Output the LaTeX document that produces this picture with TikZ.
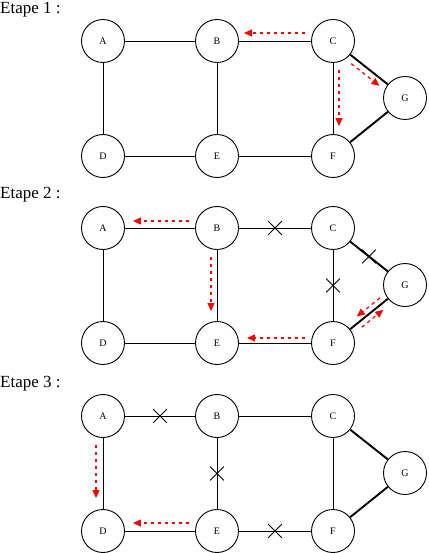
\documentclass[tikz,border=0pt]{standalone}
\usepackage{fontspec}
\setmainfont{Liberation Serif}
\usetikzlibrary{arrows.meta,calc,shapes.misc}
\definecolor{Rouge}{HTML}{FF0000}
\tikzset{
  sommet/.style={
    circle, draw, line width=0.9pt, minimum size=43pt,
    inner sep=0pt, font=\fontsize{10}{12}\selectfont
  },
  arete/.style={line width=0.9pt},
  grosse/.style={line width=1.9pt},
  coupe/.style={cross out, draw, line width=0.8pt, minimum size=13pt, inner sep=0pt},
  fleche/.style={-{Triangle[length=8pt,width=7pt]}, draw=Rouge, line width=1.2pt,
    dash pattern=on 3.5pt off 3.5pt},
  titre/.style={anchor=base west, inner sep=0pt, font=\fontsize{17}{20}\selectfont}
}

\begin{document}
\begin{tikzpicture}[x=1pt,y=-1pt]
    \useasboundingbox (0,0) rectangle (428,553);
    % titres
    \node[titre] (t1) at (0,14) {Etape 1 :};
    \node[titre] (t2) at (0,199) {Etape 2 :};
    \node[titre] (t3) at (0,387) {Etape 3 :};
    % les trois graphes
    \foreach \p/\y in {1/41,2/228,3/416}{
      \node[sommet] (A\p) at (103,\y) {A};
      \node[sommet] (B\p) at (217,\y) {B};
      \node[sommet] (C\p) at (333,\y) {C};
      \node[sommet] (G\p) at (405,\y+57) {G};
      \node[sommet] (D\p) at (103,\y+115) {D};
      \node[sommet] (E\p) at (217,\y+115) {E};
      \node[sommet] (F\p) at (333,\y+115) {F};
      \draw[arete] (A\p)--(B\p);
      \draw[arete] (B\p)--(C\p);
      \draw[arete] (A\p)--(D\p);
      \draw[arete] (B\p)--(E\p);
      \draw[arete] (C\p)--(F\p);
      \draw[arete] (D\p)--(E\p);
      \draw[arete] (E\p)--(F\p);
      \draw[grosse] (C\p)--(G\p);
      \draw[grosse] (F\p)--(G\p);
    }
    % etape 1
    \draw[fleche] ([shift={(-6,-8)}]C1.west) -- ([shift={(5,-8)}]B1.east);
    \draw[fleche] ([shift={(6,7)}]C1.south) -- ([shift={(6,-8)}]F1.north);
    \draw[fleche] ($(C1)!0.31!(G1)+(-4,5)$) -- ($(C1)!0.70!(G1)+(-4,5)$);
    % etape 2
    \node[coupe] (x2bc) at ($(B2)!0.5!(C2)$) {};
    \node[coupe] (x2cf) at ($(C2)!0.5!(F2)$) {};
    \node[coupe] (x2cg) at ($(C2)!0.5!(G2)$) {};
    \draw[fleche] ([shift={(-6,-7)}]B2.west) -- ([shift={(8,-7)}]A2.east);
    \draw[fleche] ([shift={(-6,7)}]B2.south) -- ([shift={(-6,-10)}]E2.north);
    \draw[fleche] ([shift={(-6,-5)}]F2.west) -- ([shift={(8,-5)}]E2.east);
    \draw[fleche] ($(F2)!0.70!(G2)+(-3.5,-4.5)$) -- ($(F2)!0.38!(G2)+(-3.5,-4.5)$);
    \draw[fleche] ($(F2)!0.35!(G2)+(3.5,4.5)$) -- ($(F2)!0.65!(G2)+(3.5,4.5)$);
    % etape 3
    \node[coupe] (x3ab) at ($(A3)!0.5!(B3)$) {};
    \node[coupe] (x3be) at ($(B3)!0.5!(E3)$) {};
    \node[coupe] (x3ef) at ($(E3)!0.5!(F3)$) {};
    \draw[fleche] ([shift={(-7,7)}]A3.south) -- ([shift={(-7,-11)}]D3.north);
    \draw[fleche] ([shift={(-6,-8)}]E3.west) -- ([shift={(8,-8)}]D3.east);
\end{tikzpicture}
\end{document}
